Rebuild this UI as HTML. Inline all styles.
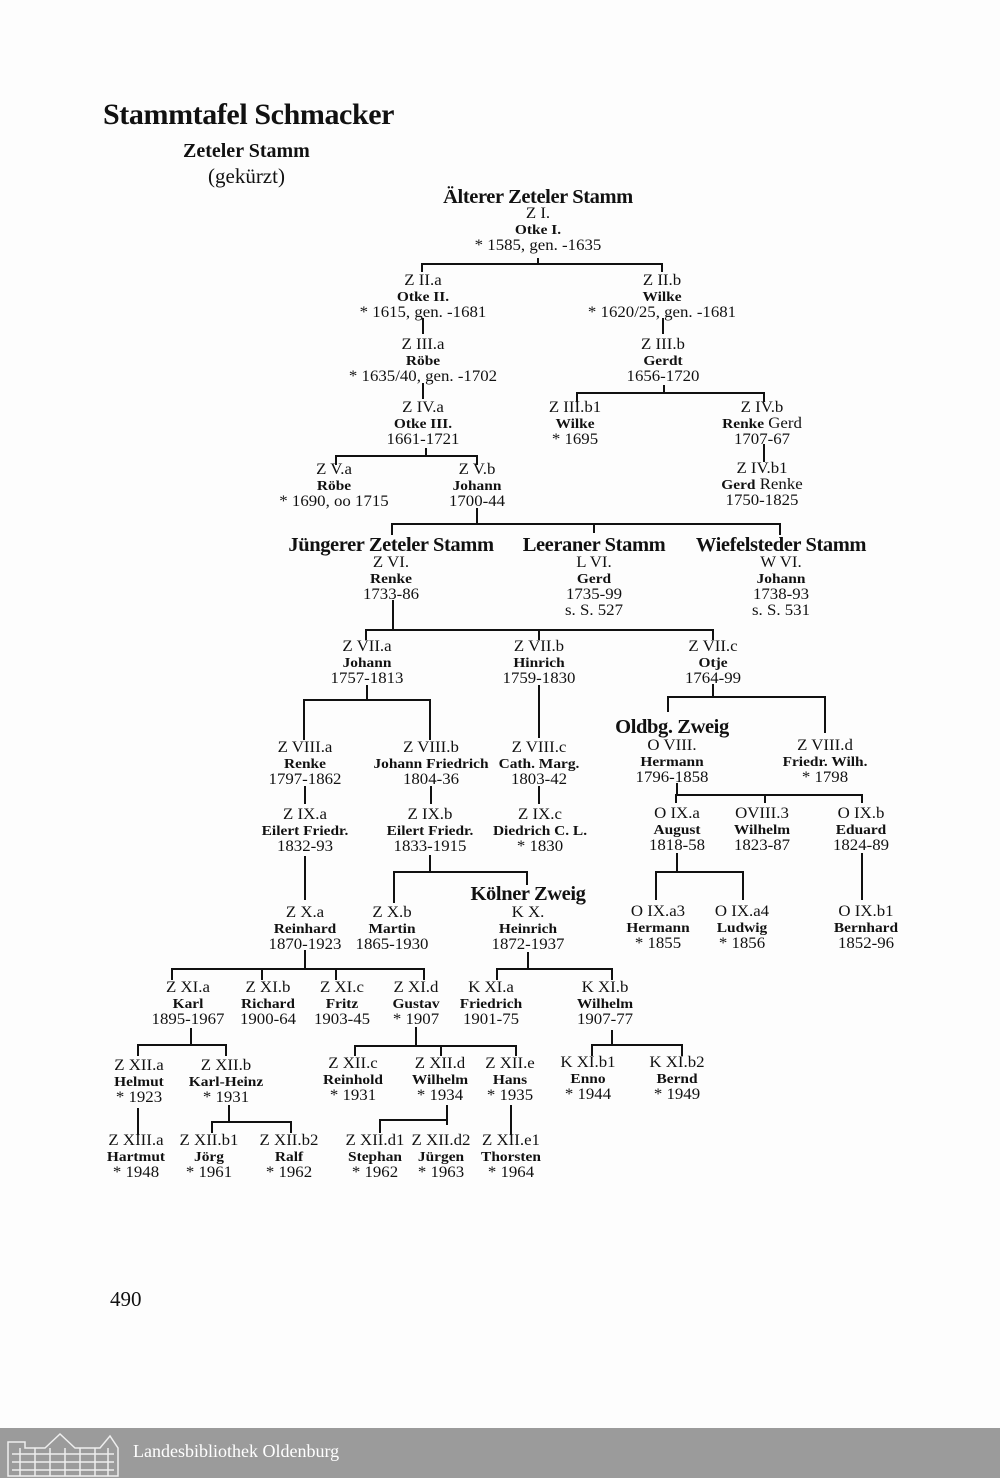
<!DOCTYPE html>
<html><head><meta charset="utf-8"><style>
body{margin:0;width:1000px;height:1478px;position:relative;background:#fdfdfd;font-family:"Liberation Serif",serif;color:#111;overflow:hidden}
.n{position:absolute;width:220px;text-align:center;font-size:15.3px;line-height:15.5px;white-space:nowrap;transform:scaleX(1.1)}
.n b{font-size:14px}
.h{position:absolute;width:300px;text-align:center;font-size:20.5px;font-weight:bold;white-space:nowrap;letter-spacing:-0.4px}
svg{position:absolute;left:0;top:0}
</style></head><body>
<div style="position:absolute;left:103px;top:98px;font-size:30px;font-weight:bold;letter-spacing:-0.4px">Stammtafel Schmacker</div>
<div style="position:absolute;left:183px;top:140px;font-size:20px;font-weight:bold">Zeteler Stamm</div>
<div style="position:absolute;left:208px;top:164px;font-size:21px">(gekürzt)</div>

<svg width="1000" height="1478" stroke="#111" stroke-width="2" fill="none">
<path d="M538 258V264M422 272V264H662V272"/>
<path d="M423 318V334M663 318V334M423 383V399"/>
<path d="M664 385V393M577 402V393H764V402"/>
<path d="M764 444V462"/>
<path d="M426 448V456M336 465V456H477V465"/>
<path d="M477 508V524M392 535V524H780V535M594 524V533"/>
<path d="M393 600V630M366 640V630H713V640M539 630V640"/>
<path d="M367 685V700M304 740V700H430V740"/>
<path d="M539 685V738"/>
<path d="M713 684V697M668 712V697H825V733"/>
<path d="M305 786V804M431 786V804M539 786V804"/>
<path d="M677 783V795M676 803V795H862V803M765 795V803"/>
<path d="M305 856V900"/>
<path d="M430 855V872M394 903V872H527V885"/>
<path d="M677 853V872M656 900V872H743V900"/>
<path d="M862 853V900"/>
<path d="M305 950V969M172 980V969H424V980M262 969V980M336 969V980"/>
<path d="M528 952V969M497 980V969H612V980"/>
<path d="M191 1028V1045M138 1056V1045H226V1056"/>
<path d="M416 1027V1046M355 1056V1046H516V1056M441 1046V1056"/>
<path d="M612 1030V1045M592 1056V1045H682V1056"/>
<path d="M138 1108V1135"/>
<path d="M229 1105V1122M212 1133V1122H291V1133"/>
<path d="M447 1105V1125M380 1133V1120H447"/>
<path d="M511 1105V1135"/>
</svg>

<div class="h" style="left:388px;top:186px">Älterer Zeteler Stamm</div>
<div class="n" style="left:428px;top:206px">Z I.<br><b>Otke I.</b><br>* 1585, gen. -1635</div>
<div class="n" style="left:313px;top:273px">Z II.a<br><b>Otke II.</b><br>* 1615, gen. -1681</div>
<div class="n" style="left:552px;top:273px">Z II.b<br><b>Wilke</b><br>* 1620/25, gen. -1681</div>
<div class="n" style="left:313px;top:337px">Z III.a<br><b>Röbe</b><br>* 1635/40, gen. -1702</div>
<div class="n" style="left:553px;top:337px">Z III.b<br><b>Gerdt</b><br>1656-1720</div>
<div class="n" style="left:313px;top:400px">Z IV.a<br><b>Otke III.</b><br>1661-1721</div>
<div class="n" style="left:465px;top:400px">Z III.b1<br><b>Wilke</b><br>* 1695</div>
<div class="n" style="left:652px;top:400px">Z IV.b<br><b>Renke</b> Gerd<br>1707-67</div>
<div class="n" style="left:652px;top:461px">Z IV.b1<br><b>Gerd</b> Renke<br>1750-1825</div>
<div class="n" style="left:224px;top:462px">Z V.a<br><b>Röbe</b><br>* 1690, oo 1715</div>
<div class="n" style="left:367px;top:462px">Z V.b<br><b>Johann</b><br>1700-44</div>

<div class="h" style="left:241px;top:534px">Jüngerer Zeteler Stamm</div>
<div class="h" style="left:444px;top:534px">Leeraner Stamm</div>
<div class="h" style="left:631px;top:534px">Wiefelsteder Stamm</div>
<div class="n" style="left:281px;top:555px">Z VI.<br><b>Renke</b><br>1733-86</div>
<div class="n" style="left:484px;top:555px">L VI.<br><b>Gerd</b><br>1735-99<br>s. S. 527</div>
<div class="n" style="left:671px;top:555px">W VI.<br><b>Johann</b><br>1738-93<br>s. S. 531</div>

<div class="n" style="left:257px;top:639px">Z VII.a<br><b>Johann</b><br>1757-1813</div>
<div class="n" style="left:429px;top:639px">Z VII.b<br><b>Hinrich</b><br>1759-1830</div>
<div class="n" style="left:603px;top:639px">Z VII.c<br><b>Otje</b><br>1764-99</div>

<div class="h" style="left:522px;top:716px">Oldbg. Zweig</div>
<div class="n" style="left:562px;top:738px">O VIII.<br><b>Hermann</b><br>1796-1858</div>
<div class="n" style="left:715px;top:738px">Z VIII.d<br><b>Friedr. Wilh.</b><br>* 1798</div>
<div class="n" style="left:195px;top:740px">Z VIII.a<br><b>Renke</b><br>1797-1862</div>
<div class="n" style="left:321px;top:740px">Z VIII.b<br><b>Johann Friedrich</b><br>1804-36</div>
<div class="n" style="left:429px;top:740px">Z VIII.c<br><b>Cath. Marg.</b><br>1803-42</div>
<div class="n" style="left:195px;top:807px">Z IX.a<br><b>Eilert Friedr.</b><br>1832-93</div>
<div class="n" style="left:320px;top:807px">Z IX.b<br><b>Eilert Friedr.</b><br>1833-1915</div>
<div class="n" style="left:430px;top:807px">Z IX.c<br><b>Diedrich C. L.</b><br>* 1830</div>
<div class="n" style="left:567px;top:806px">O IX.a<br><b>August</b><br>1818-58</div>
<div class="n" style="left:652px;top:806px">OVIII.3<br><b>Wilhelm</b><br>1823-87</div>
<div class="n" style="left:751px;top:806px">O IX.b<br><b>Eduard</b><br>1824-89</div>

<div class="h" style="left:378px;top:883px">Kölner Zweig</div>
<div class="n" style="left:418px;top:905px">K X.<br><b>Heinrich</b><br>1872-1937</div>
<div class="n" style="left:195px;top:905px">Z X.a<br><b>Reinhard</b><br>1870-1923</div>
<div class="n" style="left:282px;top:905px">Z X.b<br><b>Martin</b><br>1865-1930</div>
<div class="n" style="left:548px;top:904px">O IX.a3<br><b>Hermann</b><br>* 1855</div>
<div class="n" style="left:632px;top:904px">O IX.a4<br><b>Ludwig</b><br>* 1856</div>
<div class="n" style="left:756px;top:904px">O IX.b1<br><b>Bernhard</b><br>1852-96</div>

<div class="n" style="left:78px;top:980px">Z XI.a<br><b>Karl</b><br>1895-1967</div>
<div class="n" style="left:158px;top:980px">Z XI.b<br><b>Richard</b><br>1900-64</div>
<div class="n" style="left:232px;top:980px">Z XI.c<br><b>Fritz</b><br>1903-45</div>
<div class="n" style="left:306px;top:980px">Z XI.d<br><b>Gustav</b><br>* 1907</div>
<div class="n" style="left:381px;top:980px">K XI.a<br><b>Friedrich</b><br>1901-75</div>
<div class="n" style="left:495px;top:980px">K XI.b<br><b>Wilhelm</b><br>1907-77</div>

<div class="n" style="left:29px;top:1058px">Z XII.a<br><b>Helmut</b><br>* 1923</div>
<div class="n" style="left:116px;top:1058px">Z XII.b<br><b>Karl-Heinz</b><br>* 1931</div>
<div class="n" style="left:243px;top:1056px">Z XII.c<br><b>Reinhold</b><br>* 1931</div>
<div class="n" style="left:330px;top:1056px">Z XII.d<br><b>Wilhelm</b><br>* 1934</div>
<div class="n" style="left:400px;top:1056px">Z XII.e<br><b>Hans</b><br>* 1935</div>
<div class="n" style="left:478px;top:1055px">K XI.b1<br><b>Enno</b><br>* 1944</div>
<div class="n" style="left:567px;top:1055px">K XI.b2<br><b>Bernd</b><br>* 1949</div>

<div class="n" style="left:26px;top:1133px">Z XIII.a<br><b>Hartmut</b><br>* 1948</div>
<div class="n" style="left:99px;top:1133px">Z XII.b1<br><b>Jörg</b><br>* 1961</div>
<div class="n" style="left:179px;top:1133px">Z XII.b2<br><b>Ralf</b><br>* 1962</div>
<div class="n" style="left:265px;top:1133px">Z XII.d1<br><b>Stephan</b><br>* 1962</div>
<div class="n" style="left:331px;top:1133px">Z XII.d2<br><b>Jürgen</b><br>* 1963</div>
<div class="n" style="left:401px;top:1133px">Z XII.e1<br><b>Thorsten</b><br>* 1964</div>

<div style="position:absolute;left:110px;top:1287px;font-size:21px">490</div>

<div style="position:absolute;left:0;top:1428px;width:1000px;height:50px;background:#9b9b9b"></div>
<svg width="130" height="50" style="top:1428px" stroke="#eee" stroke-width="1.5" fill="none">
<path d="M8 48V14H25V20H45L60 6L75 20H100L110 8L118 20V48Z"/>
<path d="M12 26H114M12 34H114M12 42H114"/>
<path d="M20 20V48M35 20V48M50 20V48M65 20V48M80 20V48M95 20V48M108 20V48"/>
</svg>
<div style="position:absolute;left:133px;top:1441px;font-size:18px;color:#fff">Landesbibliothek Oldenburg</div>
</body></html>
